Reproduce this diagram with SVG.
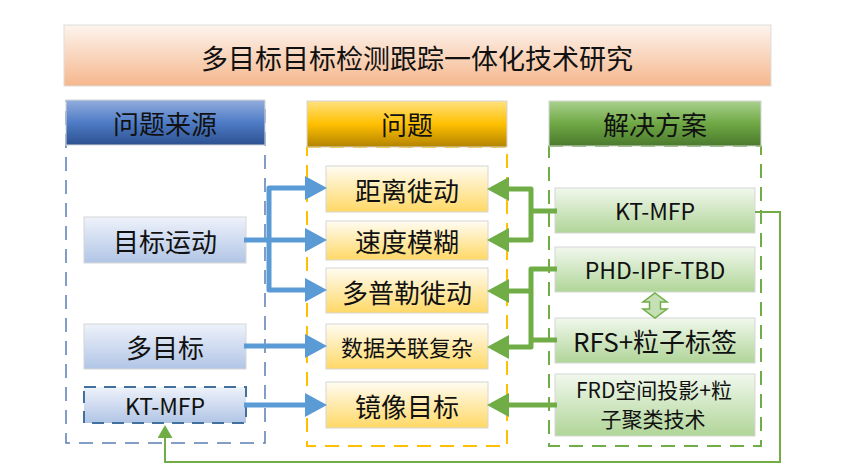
<svg xmlns="http://www.w3.org/2000/svg" width="846" height="476" viewBox="0 0 846 476">
<defs>
<linearGradient id="gTitle" x1="0" y1="0" x2="0" y2="1"><stop offset="0" stop-color="#fdf4ee"/><stop offset="1" stop-color="#f5b78c"/></linearGradient>
<linearGradient id="gHB" x1="0" y1="0" x2="0" y2="1"><stop offset="0" stop-color="#93acdc"/><stop offset="0.5" stop-color="#4f7cc6"/><stop offset="1" stop-color="#2c5190"/></linearGradient>
<linearGradient id="gHY" x1="0" y1="0" x2="0" y2="1"><stop offset="0" stop-color="#ffe17f"/><stop offset="0.5" stop-color="#ffc000"/><stop offset="1" stop-color="#b38300"/></linearGradient>
<linearGradient id="gHG" x1="0" y1="0" x2="0" y2="1"><stop offset="0" stop-color="#a9d18e"/><stop offset="0.5" stop-color="#6fa845"/><stop offset="1" stop-color="#4b7a2d"/></linearGradient>
<linearGradient id="gNB" x1="0" y1="0" x2="0" y2="1"><stop offset="0" stop-color="#eef2fa"/><stop offset="1" stop-color="#b1c5e6"/></linearGradient>
<linearGradient id="gNY" x1="0" y1="0" x2="0" y2="1"><stop offset="0" stop-color="#fffcf2"/><stop offset="1" stop-color="#ffd865"/></linearGradient>
<linearGradient id="gNG" x1="0" y1="0" x2="0" y2="1"><stop offset="0" stop-color="#f1f8ed"/><stop offset="1" stop-color="#b0d598"/></linearGradient>
<marker id="aB" markerUnits="userSpaceOnUse" markerWidth="22" markerHeight="24" viewBox="0 0 22 24" refX="12" refY="12" orient="auto-start-reverse"><path d="M0,0 L22,12 L0,24 z" fill="#5b9bd5"/></marker>
<marker id="aG" markerUnits="userSpaceOnUse" markerWidth="22" markerHeight="24" viewBox="0 0 22 24" refX="12" refY="12" orient="auto-start-reverse"><path d="M0,0 L22,12 L0,24 z" fill="#70ad47"/></marker>
<marker id="aT" markerUnits="userSpaceOnUse" markerWidth="13" markerHeight="15" viewBox="0 0 13 15" refX="7" refY="7.5" orient="auto"><path d="M0,0 L13,7.5 L0,15 z" fill="#70ad47"/></marker>
</defs>
<style>
text{font-family:"Noto Sans CJK SC","Noto Sans",sans-serif;fill:#111;text-anchor:middle;dominant-baseline:central}
.t{font-size:26px}
.n{font-size:26px}
.s{font-size:22px}
.l{font-size:23px}
.f{font-size:21px}
.node{stroke:#d6d6d6;stroke-width:1}
.blue{fill:none;stroke:#5b9bd5;stroke-width:5;stroke-linejoin:round}
.green{fill:none;stroke:#70ad47;stroke-width:5;stroke-linejoin:round}
</style>

<g id="title">
<rect x="64" y="25" width="707" height="61" fill="url(#gTitle)" stroke="#dddddd" stroke-width="1"/>
<text x="417" y="57" style="font-size:27px">多目标目标检测跟踪一体化技术研究</text>
</g>

<g id="col-source">
<rect x="66" y="101" width="199" height="342" fill="none" stroke="#5a7db4" stroke-width="1.5" stroke-dasharray="14,9"/>
<rect x="66" y="100" width="199" height="45" fill="url(#gHB)" stroke="#d6d6d6" stroke-width="1"/>
<text class="t" x="165" y="122">问题来源</text>
</g>
<g id="col-problem">
<rect x="307" y="147" width="200" height="299" fill="none" stroke="#ffc000" stroke-width="2" stroke-dasharray="14,9"/>
<rect x="307" y="101" width="200" height="46" fill="url(#gHY)" stroke="#d6d6d6" stroke-width="1"/>
<text class="t" x="407" y="123">问题</text>
</g>
<g id="col-solution">
<rect x="549" y="146" width="212" height="300" fill="none" stroke="#70ad47" stroke-width="2" stroke-dasharray="14,9"/>
<rect x="549" y="101" width="212" height="45" fill="url(#gHG)" stroke="#d6d6d6" stroke-width="1"/>
<text class="t" x="655" y="123">解决方案</text>
</g>

<g id="src-motion"><rect class="node" x="84" y="217" width="162" height="46" fill="url(#gNB)"/><text class="n" x="165" y="240">目标运动</text></g>
<g id="src-multi"><rect class="node" x="84" y="324" width="162" height="45" fill="url(#gNB)"/><text class="n" x="165" y="346">多目标</text></g>
<g id="src-ktmfp"><rect x="84" y="387" width="162" height="36" fill="url(#gNB)" stroke="#41719c" stroke-width="2" stroke-dasharray="12,8"/><text class="l" x="165" y="405">KT-MFP</text></g>

<g id="p-range"><rect class="node" x="326" y="166" width="162" height="46" fill="url(#gNY)"/><text class="n" x="407" y="189">距离徙动</text></g>
<g id="p-vel"><rect class="node" x="326" y="221" width="162" height="39" fill="url(#gNY)"/><text class="n" x="407" y="240">速度模糊</text></g>
<g id="p-doppler"><rect class="node" x="326" y="268" width="162" height="45" fill="url(#gNY)"/><text class="n" x="407" y="291">多普勒徙动</text></g>
<g id="p-assoc"><rect class="node" x="326" y="324" width="162" height="45" fill="url(#gNY)"/><text class="s" x="407" y="346">数据关联复杂</text></g>
<g id="p-mirror"><rect class="node" x="326" y="382" width="162" height="46" fill="url(#gNY)"/><text class="n" x="407" y="405">镜像目标</text></g>

<g id="s-ktmfp"><rect class="node" x="555" y="188" width="200" height="45" fill="url(#gNG)"/><text class="l" x="655" y="210">KT-MFP</text></g>
<g id="s-phd"><rect class="node" x="555" y="247" width="200" height="45" fill="url(#gNG)"/><text class="l" x="655" y="269">PHD-IPF-TBD</text></g>
<g id="s-rfs"><rect class="node" x="555" y="318" width="200" height="45" fill="url(#gNG)"/><text class="n" x="655" y="340">RFS+粒子标签</text></g>
<g id="s-frd"><rect class="node" x="555" y="374" width="200" height="62" fill="url(#gNG)"/><text class="f" x="654" y="389">FRD空间投影+粒</text><text class="f" x="653" y="418">子聚类技术</text></g>

<g id="connectors">
<path class="blue" d="M244,240 H317" marker-end="url(#aB)"/>
<path class="blue" d="M317,188 H269 V290 H317" marker-start="url(#aB)" marker-end="url(#aB)"/>
<path class="blue" d="M244,346 H317" marker-end="url(#aB)"/>
<path class="blue" d="M244,405 H317" marker-end="url(#aB)"/>
<path class="green" d="M497,189 H531 V240 H497" marker-start="url(#aG)" marker-end="url(#aG)"/>
<path class="green" d="M557,211 H531"/>
<path class="green" d="M557,269 H531 V347 H497" marker-end="url(#aG)"/>
<path class="green" d="M497,291 H531" marker-start="url(#aG)"/>
<path class="green" d="M557,340 H531"/>
<path class="green" d="M557,405 H497" marker-end="url(#aG)"/>
<polygon points="655,293 667,302 660.5,302 660.5,309 667,309 655,318 643,309 649.5,309 649.5,302 643,302" fill="#c5e0b4" stroke="#70ad47" stroke-width="1.5"/>
<path d="M755,212 H780 V462 H165 V431" fill="none" stroke="#70ad47" stroke-width="2" marker-end="url(#aT)"/>
</g>
</svg>
